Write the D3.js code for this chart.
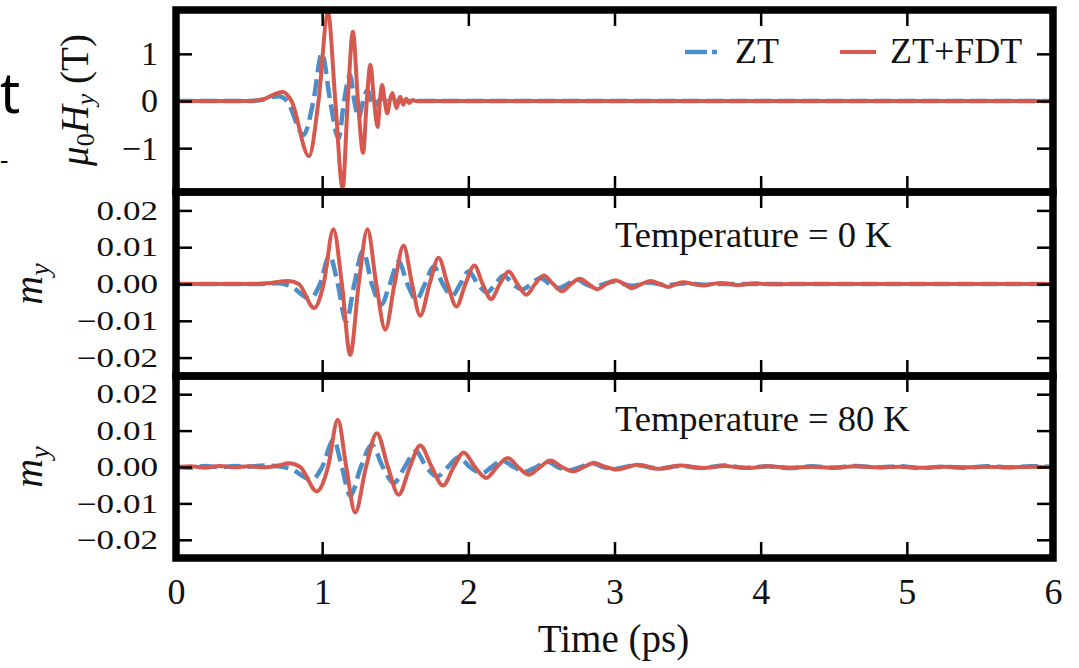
<!DOCTYPE html>
<html>
<head>
<meta charset="utf-8">
<script src="https://cdn.jsdelivr.net/npm/d3@7"></script>
<style>
  html, body { margin: 0; padding: 0; background: #fff; }
</style>
</head>
<body>
<svg id="chart" width="1079" height="668" font-family="Liberation Serif"></svg>
<script>
// ---- data -------------------------------------------------------------
const timeTicks = [0, 1, 2, 3, 4, 5, 6];
const fieldTicks = [-1, 0, 1];
const magTicks = [-0.02, -0.01, 0, 0.01, 0.02];
const seriesNames = ["ZT", "ZT+FDT"];
const tempLabels = ["Temperature = 0 K", "Temperature = 80 K"];

// pulse field mu0*Hy (T) versus time (ps)
const fieldZT = [[0,0],[0.5,0],[0.58,0.02],[0.65,0.08],[0.7,0.1],[0.76,0],[0.872,-0.72],[0.94,0],
  [0.998,1.01],[1.055,0],[1.112,-0.79],[1.15,0],[1.19,0.55],[1.22,0],[1.25,-0.36],[1.28,0],
  [1.31,0.23],[1.335,0],[1.36,-0.12],[1.385,0],[1.41,0.06],[1.44,0],[1.47,-0.03],[1.52,0],[6,0]];
const fieldFDT = [[0,0],[0.5,0],[0.6,0.04],[0.68,0.15],[0.73,0.19],[0.79,0],[0.91,-1.17],[0.975,0],
  [1.04,1.87],[1.09,0],[1.14,-1.85],[1.175,0],[1.21,1.47],[1.245,0],[1.28,-1.1],[1.305,0],
  [1.33,0.77],[1.355,0],[1.38,-0.55],[1.395,0],[1.41,0.34],[1.428,0],[1.445,-0.26],[1.462,0],
  [1.48,0.17],[1.495,0],[1.51,-0.15],[1.522,0],[1.535,0.09],[1.545,0],[1.555,-0.08],[1.565,0],
  [1.575,0.05],[1.585,0],[1.595,-0.04],[1.61,0],[1.62,0.02],[1.64,0],[6,0]];

// magnetisation m_y at 0 K
const m0ZT = [[0,0],[0.6,0],[0.7,0.0002],[0.78,-0.0005],[0.918,-0.0040],[0.985,0],[1.05,0.0077],
  [1.107,0],[1.164,-0.0102],[1.22,0],[1.279,0.0090],[1.34,0],[1.404,-0.0056],[1.463,0],
  [1.523,0.0061],[1.583,0],[1.644,-0.0043],[1.703,0],[1.763,0.0048],[1.825,0],[1.888,-0.0032],
  [1.945,0],[2.002,0.0034],[2.065,0],[2.128,-0.0023],[2.185,0],[2.242,0.0023],[2.305,0],
  [2.368,-0.0015],[2.43,0],[2.493,0.0016],[2.556,0],[2.619,-0.0011],[2.68,0],[2.744,0.0012],
  [2.8,0],[2.859,-0.0008],[2.93,0],[2.995,0.0007],[3.06,0],[3.12,-0.0005],[3.18,0],[3.24,0.0004],
  [3.3,0],[3.37,-0.0003],[3.43,0],[3.49,0.0002],[3.55,0],[3.61,-0.0002],[3.7,0],[6,0]];
const m0FDT = [[0,0],[0.55,0],[0.65,0.0003],[0.77,0.0008],[0.84,0],[0.945,-0.0065],[1.01,0],
  [1.077,0.0149],[1.135,0],[1.192,-0.0192],[1.25,0],[1.31,0.0149],[1.37,0],[1.432,-0.0124],
  [1.495,0],[1.557,0.0104],[1.615,0],[1.671,-0.0086],[1.735,0],[1.797,0.0071],[1.858,0],
  [1.918,-0.0061],[1.98,0],[2.041,0.0050],[2.098,0],[2.155,-0.0041],[2.215,0],[2.276,0.0034],
  [2.336,0],[2.397,-0.0029],[2.457,0],[2.516,0.0023],[2.58,0],[2.642,-0.0020],[2.702,0],
  [2.762,0.0014],[2.822,0],[2.882,-0.0014],[2.945,0],[3.007,0.0010],[3.065,0],[3.12,-0.0011],
  [3.185,0],[3.25,0.0008],[3.31,0],[3.37,-0.0008],[3.42,0],[3.47,0.0005],[3.54,0],[3.61,-0.0004],
  [3.67,0],[3.73,0.0003],[3.79,0],[3.85,-0.0003],[3.91,0],[3.97,0.0002],[4.03,0],[4.1,-0.0001],
  [4.2,0],[6,0]];

// magnetisation m_y at 80 K
const m80ZT = [[0,0.0001],[0.1,-0.0002],[0.2,0.0003],[0.3,-0.0001],[0.4,0.0003],[0.5,0.0001],
  [0.6,0.0004],[0.7,0.0002],[0.78,-0.0004],[0.929,-0.0035],[1.0,0],[1.078,0.0075],[1.135,0],
  [1.192,-0.0079],[1.265,0],[1.34,0.0061],[1.415,0],[1.489,-0.0044],[1.565,0],[1.64,0.0043],
  [1.713,0],[1.786,-0.0026],[1.86,0],[1.934,0.0027],[2.01,0],[2.093,-0.0017],[2.16,0],
  [2.23,0.0018],[2.31,0],[2.39,-0.0012],[2.465,0],[2.539,0.0015],[2.61,0],[2.687,-0.0009],
  [2.77,0],[2.847,0.0011],[2.92,0],[2.995,-0.0006],[3.07,0],[3.15,0.0005],[3.3,-0.0004],
  [3.45,0.0003],[3.6,-0.0003],[3.75,0.0004],[3.9,-0.0002],[4.05,0.0002],[4.2,-0.0003],
  [4.35,0.0002],[4.5,-0.0002],[4.65,0.0003],[4.8,-0.0001],[4.95,0.0002],[5.1,-0.0003],
  [5.25,0.0001],[5.4,-0.0002],[5.55,0.0002],[5.7,-0.0001],[5.85,0.0002],[6,0]];
const m80FDT = [[0,0],[0.1,0.0002],[0.2,-0.0002],[0.3,0.0003],[0.4,-0.0001],[0.5,0.0002],
  [0.6,-0.0001],[0.7,0.0004],[0.77,0.0010],[0.85,0],[0.963,-0.0067],[1.04,0],[1.107,0.0130],
  [1.165,0],[1.226,-0.0125],[1.30,0],[1.374,0.0093],[1.45,0],[1.523,-0.0076],[1.60,0],
  [1.671,0.0059],[1.75,0],[1.826,-0.0051],[1.9,0],[1.968,0.0040],[2.045,0],[2.123,-0.0030],
  [2.195,0],[2.27,0.0025],[2.34,0],[2.413,-0.0021],[2.49,0],[2.562,0.0018],[2.64,0],
  [2.721,-0.0012],[2.79,0],[2.858,0.0011],[2.94,0],[3.018,-0.0007],[3.09,0],[3.16,0.0006],
  [3.3,-0.0005],[3.45,0.0004],[3.6,-0.0003],[3.75,0.0003],[3.9,-0.0003],[4.05,0.0002],
  [4.2,-0.0002],[4.35,0.0001],[4.5,-0.0002],[4.65,0.0002],[4.8,-0.0001],[4.95,0.0001],
  [5.1,-0.0002],[5.25,0.0001],[5.4,-0.0001],[5.55,0.0001],[5.7,-0.0001],[5.85,0.0001],[6,0]];

// ---- layout -----------------------------------------------------------
const W = 1079, H = 668;
const left = 176, right = 1053;
const blue = "#4b8ec8", red = "#d6594f";
const frameW = 7.5, tickLen = 16;

// serif text: family given both as attribute and inline style
const serif = (sel, size) => sel
  .attr("font-family", "Liberation Serif")
  .attr("font-size", size)
  .attr("fill", "#111")
  .style("font-family", "Liberation Serif")
  .style("font-size", size + "px");

const svg = d3.select("#chart");
svg.append("rect").attr("width", W).attr("height", H).attr("fill", "#fff");

const x = d3.scaleLinear().domain([0, 6]).range([left, right]);

const panels = [
  { id: "field", y0: 10,  y1: 192, domain: [-1.93, 1.93], ticks: fieldTicks,
    fmt: d3.format("d"), zt: fieldZT, fdt: fieldFDT, labelSize: 34, labelScale: 1 },
  { id: "m0",    y0: 192, y1: 376, domain: [-0.025, 0.025], ticks: magTicks,
    fmt: d3.format(".2f"), zt: m0ZT, fdt: m0FDT, labelSize: 27, labelScale: 1.3 },
  { id: "m80",   y0: 376, y1: 558, domain: [-0.025, 0.025], ticks: magTicks,
    fmt: d3.format(".2f"), zt: m80ZT, fdt: m80FDT, labelSize: 27, labelScale: 1.3 }
];

panels.forEach((p, i) => {
  const y = d3.scaleLinear().domain(p.domain).range([p.y1, p.y0]);
  const g = svg.append("g").attr("class", "panel-" + p.id);

  g.append("clipPath").attr("id", "clip-" + p.id)
    .append("rect").attr("x", left).attr("y", p.y0)
    .attr("width", right - left).attr("height", p.y1 - p.y0);

  const line = d3.line()
    .x(d => x(d[0])).y(d => y(d[1]))
    .curve(d3.curveMonotoneX);

  const plot = g.append("g").attr("clip-path", `url(#clip-${p.id})`);
  plot.append("path").datum(p.zt)
    .attr("d", line).attr("fill", "none")
    .attr("stroke", blue).attr("stroke-width", 4.5)
    .attr("stroke-dasharray", "17,7");
  plot.append("path").datum(p.fdt)
    .attr("d", line).attr("fill", "none")
    .attr("stroke", red).attr("stroke-width", 4)
    .attr("stroke-linejoin", "round");

  // inward ticks on all four sides
  const axL = g.append("g").attr("transform", `translate(${left},0)`)
    .call(d3.axisLeft(y).tickValues(p.ticks).tickSizeInner(-tickLen).tickSizeOuter(0)
      .tickPadding(18).tickFormat(p.fmt));
  const axR = g.append("g").attr("transform", `translate(${right},0)`)
    .call(d3.axisRight(y).tickValues(p.ticks).tickSizeInner(-tickLen).tickSizeOuter(0)
      .tickFormat(""));
  const axT = g.append("g").attr("transform", `translate(0,${p.y0})`)
    .call(d3.axisTop(x).tickValues(timeTicks).tickSizeInner(-tickLen).tickSizeOuter(0)
      .tickFormat(""));
  const axB = g.append("g").attr("transform", `translate(0,${p.y1})`)
    .call(d3.axisBottom(x).tickValues(timeTicks).tickSizeInner(-tickLen).tickSizeOuter(0)
      .tickPadding(20).tickFormat(i === panels.length - 1 ? d3.format("d") : ""));

  [axL, axR, axT, axB].forEach(a => {
    a.attr("font-family", "Liberation Serif");
    a.select(".domain").remove();
    a.selectAll(".tick line").attr("stroke", "#000").attr("stroke-width", 2.5);
  });

  serif(axL.selectAll("text"), p.labelSize)
    .attr("x", -18 / p.labelScale)
    .attr("transform", `scale(${p.labelScale},1)`);

  serif(axB.selectAll("text"), 36);

  // frame
  g.append("rect")
    .attr("x", left).attr("y", p.y0)
    .attr("width", right - left).attr("height", p.y1 - p.y0)
    .attr("fill", "none").attr("stroke", "#000").attr("stroke-width", frameW);
});

// ---- axis titles ------------------------------------------------------
const yTitle = serif(svg.append("text"), 39)
  .attr("transform", "translate(88,100) rotate(-90)")
  .attr("text-anchor", "middle");
yTitle.append("tspan").attr("font-style", "italic").text("μ");
yTitle.append("tspan").attr("font-size", 26).style("font-size", "26px").attr("dy", 6).text("0");
yTitle.append("tspan").attr("font-style", "italic").attr("dy", -6).text("H");
yTitle.append("tspan").attr("font-style", "italic").attr("font-size", 26).style("font-size", "26px")
  .attr("dy", 6).text("y");
yTitle.append("tspan").attr("dy", -6).text(" (T)");

[284, 467].forEach(cy => {
  const t = serif(svg.append("text"), 40)
    .attr("transform", `translate(42,${cy}) rotate(-90)`)
    .attr("text-anchor", "middle");
  t.append("tspan").attr("font-style", "italic").text("m");
  t.append("tspan").attr("font-style", "italic").attr("font-size", 28).style("font-size", "28px")
    .attr("dy", 7).text("y");
});

serif(svg.append("text"), 39)
  .attr("x", (left + right) / 2 - 1).attr("y", 652)
  .attr("text-anchor", "middle")
  .text("Time (ps)");

// ---- panel annotations --------------------------------------------------
serif(svg.append("text"), 36.5).attr("x", 615).attr("y", 247).text(tempLabels[0]);
serif(svg.append("text"), 36.5).attr("x", 615).attr("y", 431).text(tempLabels[1]);

// ---- legend ---------------------------------------------------------------
const legend = svg.append("g");
legend.append("line").attr("x1", 685).attr("x2", 717).attr("y1", 52).attr("y2", 52)
  .attr("stroke", blue).attr("stroke-width", 4.5).attr("stroke-dasharray", "22,5");
serif(legend.append("text"), 36).attr("x", 735).attr("y", 63).text(seriesNames[0]);
legend.append("line").attr("x1", 840).attr("x2", 876).attr("y1", 52).attr("y2", 52)
  .attr("stroke", red).attr("stroke-width", 4);
serif(legend.append("text"), 36).attr("x", 890).attr("y", 63).text(seriesNames[1]);

// ---- slide text at the left edge --------------------------------------
svg.append("text").attr("x", 0).attr("y", 113)
  .attr("font-family", "Noto Sans").style("font-family", "Noto Sans")
  .style("font-size", "56px").attr("fill", "#000").text("t");
svg.append("text").attr("x", 0).attr("y", 169)
  .attr("font-family", "Noto Sans").style("font-family", "Noto Sans")
  .style("font-size", "26px").attr("fill", "#000").text("-");
</script>
</body>
</html>
